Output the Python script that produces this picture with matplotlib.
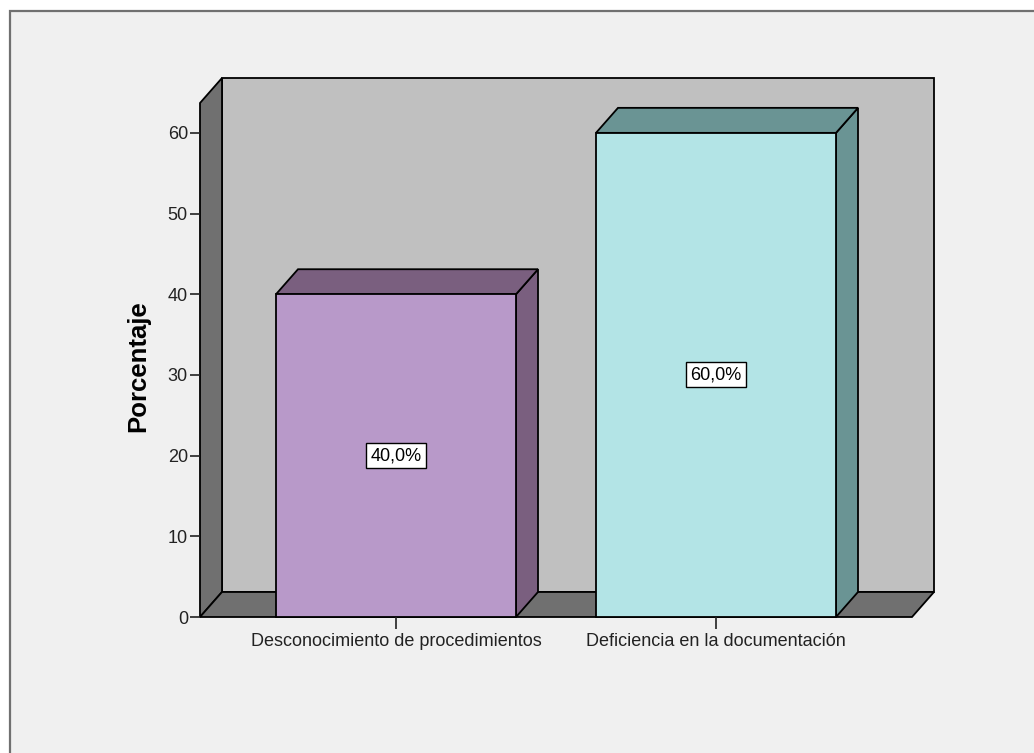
import matplotlib
matplotlib.use('Agg')
import matplotlib.pyplot as plt
from matplotlib.patches import Polygon, Rectangle

categorias = ['Desconocimiento de procedimientos', 'Deficiencia en la documentación']
porcentajes = [40.0, 60.0]
etiquetas = ['40,0%', '60,0%']
colores_frente = ['#b899c9', '#b3e4e6']
colores_lado = ['#7a5f7f', '#6a9494']
yticks = [0, 10, 20, 30, 40, 50, 60]

plt.rcParams['font.family'] = ['Liberation Sans', 'DejaVu Sans']

fig = plt.figure(figsize=(10.34, 7.53), dpi=100)
fig.patch.set_facecolor('white')
# marco gris del visor
fig.patches.append(Rectangle((10 / 1034, -0.1), 1.2, (753 - 11) / 753 + 0.1,
                             transform=fig.transFigure, facecolor='#f0f0f0',
                             edgecolor='#707070', linewidth=1.6, zorder=-10))

ax = fig.add_axes([200 / 1034, (753 - 617) / 753, (934 - 200) / 1034, (617 - 78) / 753])
ax.set_facecolor('none')
x_izq, x_der = -0.6125, 1.6125
dx, dy = 0.06875, 3.1
y_top = 63.7
ax.set_xlim(x_izq, x_der + dx)
ax.set_ylim(0, y_top + dy)
for s in ax.spines.values():
    s.set_visible(False)

lw = 1.3
# pared trasera, pared izquierda y suelo
ax.add_patch(Polygon([(x_izq + dx, dy), (x_der + dx, dy), (x_der + dx, y_top + dy), (x_izq + dx, y_top + dy)],
                     facecolor='#c0c0c0', edgecolor='black', linewidth=lw, clip_on=False))
ax.add_patch(Polygon([(x_izq, 0), (x_izq + dx, dy), (x_izq + dx, y_top + dy), (x_izq, y_top)],
                     facecolor='#707070', edgecolor='black', linewidth=lw, clip_on=False))
ax.add_patch(Polygon([(x_izq, 0), (x_der, 0), (x_der + dx, dy), (x_izq + dx, dy)],
                     facecolor='#707070', edgecolor='black', linewidth=lw, clip_on=False))

ancho = 0.75
for i, v in enumerate(porcentajes):
    x0, x1 = i - ancho / 2, i + ancho / 2
    ax.add_patch(Polygon([(x1, 0), (x1 + dx, dy), (x1 + dx, v + dy), (x1, v)],
                         facecolor=colores_lado[i], edgecolor='black', linewidth=lw, clip_on=False))
    ax.add_patch(Polygon([(x0, v), (x1, v), (x1 + dx, v + dy), (x0 + dx, v + dy)],
                         facecolor=colores_lado[i], edgecolor='black', linewidth=lw, clip_on=False))
    ax.add_patch(Rectangle((x0, 0), ancho, v, facecolor=colores_frente[i],
                           edgecolor='black', linewidth=lw, clip_on=False))
    ax.text(i, v / 2, etiquetas[i], ha='center', va='center', fontsize=13, color='black',
            bbox=dict(boxstyle='square,pad=0.22', facecolor='white', edgecolor='black', linewidth=1))

ax.set_yticks(yticks)
ax.set_yticklabels([str(t) for t in yticks])
ax.set_xticks(range(len(categorias)))
ax.set_xticklabels(categorias)
ax.tick_params(axis='y', direction='out', length=7.2, width=1.2, pad=1.5, labelsize=13, colors='#222222')
ax.tick_params(axis='x', direction='out', length=8.5, width=1.2, pad=3, labelsize=13, colors='#222222')
ax.set_ylabel('Porcentaje', fontsize=18.5, fontweight='bold')
ax.yaxis.set_label_coords(-0.068, 0.4657)

fig.savefig('out.png', dpi=100, facecolor=fig.get_facecolor())
